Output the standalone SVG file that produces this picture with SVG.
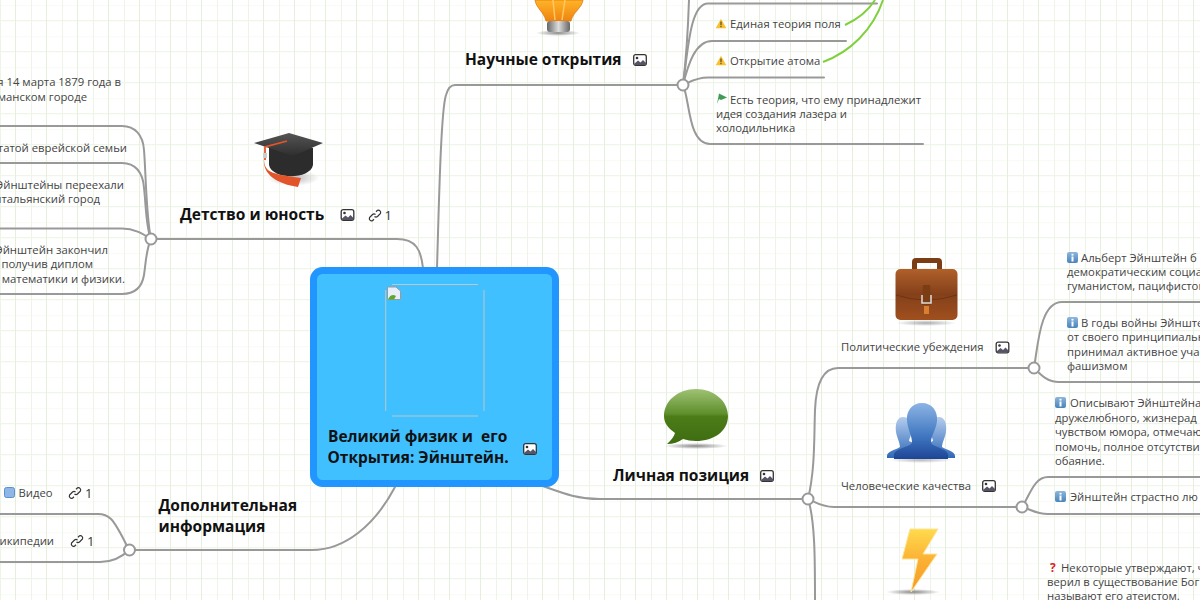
<svg xmlns="http://www.w3.org/2000/svg" xmlns:xlink="http://www.w3.org/1999/xlink" width="1200" height="600" viewBox="0 0 1200 600">
<style>
text{font-family:"Open Sans","Noto Sans","DejaVu Sans",sans-serif;}
.h{font-size:15.5px;font-weight:700;fill:#111;white-space:pre;}
.s{font-size:11.3px;fill:#444;}
.n{font-size:13px;fill:#333;}
.c{fill:none;stroke:#999;stroke-width:2;stroke-linecap:round;}
.g{fill:none;stroke:#7ed03c;stroke-width:2;}
.hub{fill:#fff;stroke:#999;stroke-width:2;}
</style>
<defs>
<pattern id="grid" x="0" y="5.2" width="31" height="31" patternUnits="userSpaceOnUse">
<rect width="31" height="31" fill="#fff"/>
<path d="M0 .5H31" stroke="#f8fbf4" stroke-width="1"/>
<path d="M0 15.5H31" stroke="#ecf3e3" stroke-width="1"/>
<path d="M.5 0V31" stroke="#eff4e8" stroke-width="1"/>
<path d="M15.5 0V31" stroke="#e6eedc" stroke-width="1"/>
</pattern>
<symbol id="img" viewBox="0 0 14 12" overflow="visible">
<rect x=".7" y=".7" width="12.6" height="10.6" rx="2" fill="#fff" stroke="#333" stroke-width="1.3"/>
<circle cx="4" cy="4" r="1.3" fill="#333"/>
<path d="M1 10 5 6.500 7.500 8.500 10 6 13 9V11H1Z" fill="#556"/>
</symbol>
<symbol id="link" viewBox="0 0 14 14" overflow="visible">
<path d="M8 3.200 9.500 1.800a2.300 2.300 0 0 1 3 3L9.500 8a2.300 2.300 0 0 1-3 0M6 10.800 4.500 12.200a2.300 2.300 0 0 1-3-3L4.500 6a2.300 2.300 0 0 1 3 0" fill="none" stroke="#333" stroke-width="1.200"/>
</symbol>
<linearGradient id="bl" x1="0" y1="0" x2="0" y2="1"><stop offset="0" stop-color="#8db6dc"/><stop offset="1" stop-color="#4a84bb"/></linearGradient>
<symbol id="info" viewBox="0 0 11 11" overflow="visible">
<rect width="11" height="11" rx="2" fill="url(#bl)"/>
<rect x="4.500" y="4.500" width="2" height="5" fill="#fff"/><rect x="4.500" y="1.800" width="2" height="1.800" fill="#fff"/>
</symbol>
<symbol id="warn" viewBox="0 0 11 10" overflow="visible">
<path d="M5.500 .3 10.800 9.700H.2Z" fill="#fbc02d"/><rect x="5" y="3" width="1" height="3.800" fill="#333"/><rect x="5" y="7.500" width="1" height="1.200" fill="#333"/>
</symbol>
<radialGradient id="sh"><stop offset="0" stop-color="#888"/><stop offset="1" stop-color="#888" stop-opacity="0"/></radialGradient>
<linearGradient id="bulb" x1="0" y1="0" x2="0" y2="1"><stop offset="0" stop-color="#ffb428"/><stop offset="1" stop-color="#ee8410"/></linearGradient>
<linearGradient id="metal" x1="0" y1="0" x2="1" y2="0"><stop offset="0" stop-color="#666"/><stop offset=".5" stop-color="#ddd"/><stop offset="1" stop-color="#666"/></linearGradient>
<linearGradient id="case" x1="0" y1="0" x2="0" y2="1"><stop offset="0" stop-color="#b0602a"/><stop offset=".5" stop-color="#84401a"/><stop offset="1" stop-color="#a0501e"/></linearGradient>
<linearGradient id="green" x1="0" y1="0" x2="0" y2="1"><stop offset="0" stop-color="#9fc274"/><stop offset=".45" stop-color="#5f8f2c"/><stop offset=".5" stop-color="#4c7c18"/><stop offset="1" stop-color="#3e6c12"/></linearGradient>
<linearGradient id="man" x1="0" y1="0" x2="0" y2="1"><stop offset="0" stop-color="#8cb4e4"/><stop offset=".6" stop-color="#3f76c0"/><stop offset="1" stop-color="#1e4596"/></linearGradient>
<linearGradient id="man2" x1="0" y1="0" x2="0" y2="1"><stop offset="0" stop-color="#b4cdee"/><stop offset="1" stop-color="#2f68b8"/></linearGradient>
<linearGradient id="bolt" x1="0" y1="0" x2="0" y2="1"><stop offset="0" stop-color="#ffdb4d"/><stop offset=".5" stop-color="#fbb034"/><stop offset="1" stop-color="#f59a24"/></linearGradient>
<linearGradient id="cap" x1="0" y1="0" x2="0" y2="1"><stop offset="0" stop-color="#555"/><stop offset="1" stop-color="#2e2e2e"/></linearGradient>
</defs>
<rect width="1200" height="600" fill="url(#grid)"/>

<g id="connectors">
<path class="c" d="M423 268C421 250 416 239 397 239H151"/>
<path class="c" d="M437 268C439 200 441 110 446 95 448 88 451 85 455 85H683"/>
<path class="c" d="M537 484C560 492 575 499 600 499H808"/>
<path class="c" d="M395 487C375 525 345 550 312 550H129"/>
<path class="c" d="M151 239C146 215 146 175 144 150 143 135 135 126 122 126H0"/>
<path class="c" d="M151 239C146 228 146 205 144 188 143 172 135 163 122 163H0"/>
<path class="c" d="M151 239C143 234 135 228.500 122 228.500H0"/>
<path class="c" d="M151 239C146 250 146 262 144 275 142 287 135 294 122 294H0"/>
<path class="c" d="M129 550C124 540 117 525 111 519 107 515 103 514 98 514H0"/>
<path class="c" d="M129 550C124 555 115 562 100 562H0"/>
<path class="c" d="M683 85C686 60 688 30 689 0"/>
<path class="c" d="M683 85C688 50 690 3.500 708 3.500H877"/>
<path class="c" d="M683 85C688 65 695 41 712 41H846"/>
<path class="c" d="M683 85C690 82 696 77.500 708 77.500H824"/>
<path class="c" d="M683 85C690 100 688 144 710 144H923"/>
<path class="g" d="M845 25C858 19 868 11 875 0"/>
<path class="g" d="M823 62C850 52 873 30 883 0"/>
<path class="c" d="M808 499C815 470 814 440 815 410 816 385 822 368 838 368H1034"/>
<path class="c" d="M808 499C815 502 822 507 834 507H1022"/>
<path class="c" d="M808 499C815 520 815 560 815 600"/>
<path class="c" d="M1034 368C1038 345 1040 302 1062 302H1200"/>
<path class="c" d="M1034 368C1040 374 1047 382 1059 382H1200"/>
<path class="c" d="M1022 507C1030 495 1034 477 1048 477H1200"/>
<path class="c" d="M1022 507C1030 509 1036 514 1048 514H1200"/>
<circle class="hub" cx="151" cy="239" r="5.500"/>
<circle class="hub" cx="683" cy="85" r="5.500"/>
<circle class="hub" cx="808" cy="499" r="5.500"/>
<circle class="hub" cx="129.500" cy="550" r="5.500"/>
<circle class="hub" cx="1034" cy="368" r="5.500"/>
<circle class="hub" cx="1022" cy="507" r="5.500"/>
</g>

<g id="center">
<rect x="313.500" y="270.500" width="242" height="213" rx="9" fill="#40c0ff" stroke="#2196ff" stroke-width="7"/>
<path d="M392 284.500H478M392 416H478M385.700 290V411M484 290V411" fill="none" stroke="#b8c8cc" stroke-width="1"/>
<g id="broken-image">
<path d="M387.500 287H396L400.500 291V299.500H387.500Z" fill="#e8eef8" stroke="#9a9a9a"/>
<path d="M388 299.500C390 295 393 294 396 296L394 299.500Z" fill="#5fa82e"/>
</g>
<text class="h" x="328" y="442" xml:space="preserve">Великий физик и  его</text>
<text class="h" x="327.500" y="463">Открытия: Эйнштейн.</text>
<use href="#img" x="523" y="443" width="14" height="12"/>
</g>

<g id="node-science">
<ellipse cx="558" cy="33" rx="22" ry="3" fill="url(#sh)"/>
<path d="M535 0H583C582 8 573 12 571 21H546C544 12 536 8 535 0Z" fill="url(#bulb)" stroke="#e07a10" stroke-width=".8"/>
<path d="M553 0 555 20M565 0 562 20" stroke="#ffc860" stroke-width="1.500" fill="none"/>
<rect x="547" y="21" width="23" height="11" rx="3" fill="url(#metal)"/>
<text class="h" x="465" y="65">Научные открытия</text>
<use href="#img" x="633" y="54" width="14" height="12"/>
</g>
<g id="node-science-1">
<use href="#warn" x="715.500" y="18.500" width="11" height="10"/>
<text class="s" x="730" y="28">Единая теория поля</text>
</g>
<g id="node-science-2">
<use href="#warn" x="715.500" y="55.500" width="11" height="10"/>
<text class="s" x="730" y="65">Открытие атома</text>
</g>
<g id="node-science-3">
<path d="M717 104 719 93.500 727 97.500 721 100 719 99Z" fill="#3f9b54"/>
<text class="s" x="730" y="104">Есть теория, что ему принадлежит</text>
<text class="s" x="716" y="118">идея создания лазера и</text>
<text class="s" x="716" y="132">холодильника</text>
</g>

<g id="node-childhood">
<ellipse cx="293" cy="178" rx="26" ry="8" fill="url(#sh)" opacity=".6"/>
<path d="M269 148V165C272 180 310 180 313 165V148Z" fill="#2c2c2c"/>
<path d="M289 133 323 143 293 156 254 143Z" fill="url(#cap)"/>
<path d="M287 141 265 147V160" fill="none" stroke="#e2552a" stroke-width="1.800"/>
<rect x="263" y="153" width="4" height="5" fill="#ccc"/>
<path d="M264 158C264 172 270 174 301 178L298 187C278 184 262 175 264 158Z" fill="#e2552a"/>
<text class="h" x="180" y="220">Детство и юность</text>
<use href="#img" x="340.500" y="209" width="14" height="12"/>
<use href="#link" x="368" y="208.500" width="14" height="14"/>
<text class="n" x="384.500" y="220">1</text>
</g>
<g id="node-childhood-1">
<text class="s" text-anchor="end" x="121" y="86">я 14 марта 1879 года в</text>
<text class="s" text-anchor="end" x="87" y="100.500">манском городе</text>
</g>
<g id="node-childhood-2"><text class="s" text-anchor="end" x="127" y="151.500">татой еврейской семьи</text></g>
<g id="node-childhood-3">
<text class="s" text-anchor="end" x="124" y="189">Эйнштейны переехали</text>
<text class="s" text-anchor="end" x="100" y="203">итальянский город</text>
</g>
<g id="node-childhood-4">
<text class="s" text-anchor="end" x="108" y="254">Эйнштейн закончил</text>
<text class="s" text-anchor="end" x="93" y="268">получив диплом</text>
<text class="s" text-anchor="end" x="125" y="283">математики и физики.</text>
</g>

<g id="node-personal">
<ellipse cx="696" cy="446" rx="32" ry="3" fill="url(#sh)"/>
<path d="M696 389C714 389 728 401 728 416 728 431 714 441 696 441 691 441 687 440 683 439 679 442 673 444 667 444 671 440 674 437 675 433 668 428 664 423 664 416 664 401 678 389 696 389Z" fill="url(#green)"/>
<text class="h" x="613" y="481">Личная позиция</text>
<use href="#img" x="760" y="470" width="14" height="12"/>
</g>
<g id="node-politics">
<ellipse cx="926" cy="323" rx="30" ry="3" fill="url(#sh)" opacity=".7"/>
<path d="M912 270V262Q912 258 916 258H938Q942 258 942 262V270H937V263H917V270Z" fill="#7a3d14"/>
<rect x="895.500" y="269" width="62" height="51" rx="5" fill="url(#case)"/>
<path d="M896 295Q926 305 957 295" fill="none" stroke="#6d3410" stroke-width="1"/>
<path d="M923 285H930L931 305H922Z" fill="#7a3d14"/>
<path d="M922 295V303H931V295" fill="none" stroke="#ddd" stroke-width="1.500"/>
<rect x="924" y="306" width="5" height="8" fill="#d98030"/>
<text class="s" x="841" y="351">Политические убеждения</text>
<use href="#img" x="995.500" y="341.500" width="14" height="12"/>
</g>
<g id="node-politics-1">
<use href="#info" x="1067" y="252" width="11" height="11"/>
<text class="s" x="1081" y="262">Альберт Эйнштейн б</text>
<text class="s" x="1067" y="276">демократическим социа</text>
<text class="s" x="1067" y="290">гуманистом, пацифистом</text>
</g>
<g id="node-politics-2">
<use href="#info" x="1067" y="317" width="11" height="11"/>
<text class="s" x="1081" y="327">В годы войны Эйнште</text>
<text class="s" x="1067" y="341">от своего принципиальн</text>
<text class="s" x="1067" y="355.500">принимал активное учас</text>
<text class="s" x="1067" y="370">фашизмом</text>
</g>
<g id="node-qualities">
<ellipse cx="921" cy="460" rx="32" ry="3" fill="url(#sh)" opacity=".6"/>
<path d="M903 417C910 417 913 424 912 431 911 436 909 439 909 441L925 448V458H887V456C887 451 896 450 900 447 900 443 897 438 896 432 895 424 897 417 903 417ZM939 417C945 417 947 424 946 432 945 438 942 443 942 447 946 450 955 451 955 456V458H917V448L933 441C933 439 931 436 930 431 929 424 932 417 939 417Z" fill="url(#man2)"/>
<path d="M922 403C932 403 938 411 937 421 936 430 931 436 931 442 931 447 948 448 948 455V459H894V455C894 448 912 447 912 442 912 436 908 430 907 421 906 411 912 403 922 403Z" fill="url(#man)"/>
<text class="s" x="841" y="490">Человеческие качества</text>
<use href="#img" x="982" y="480" width="14" height="12"/>
</g>
<g id="node-qualities-1">
<use href="#info" x="1055" y="397" width="11" height="11"/>
<text class="s" x="1070" y="407">Описывают Эйнштейна</text>
<text class="s" x="1055" y="422">дружелюбного, жизнерад</text>
<text class="s" x="1055" y="436">чувством юмора, отмечаю</text>
<text class="s" x="1055" y="451">помочь, полное отсутстви</text>
<text class="s" x="1055" y="465">обаяние.</text>
</g>
<g id="node-qualities-2">
<use href="#info" x="1055" y="491" width="11" height="11"/>
<text class="s" x="1070" y="501">Эйнштейн страстно лю</text>
</g>
<g id="node-faith">
<ellipse cx="913" cy="592" rx="27" ry="3" fill="url(#sh)"/>
<path d="M910 529H938L923 554H937L911 592 918 559H902Z" fill="url(#bolt)" stroke="#fde49a" stroke-width="1"/>
</g>
<g id="node-faith-1">
<text x="1050" y="572" font-size="12" font-weight="700" fill="#e02020">?</text>
<text class="s" x="1061" y="572">Некоторые утверждают, ч</text>
<text class="s" x="1047" y="586">верил в существование Бог</text>
<text class="s" x="1047" y="600">называют его атеистом.</text>
</g>

<g id="node-more">
<text class="h" x="158.500" y="511">Дополнительная</text>
<text class="h" x="158.500" y="532">информация</text>
</g>
<g id="node-more-1">
<rect x="4.500" y="487.500" width="10" height="10" rx="2" fill="#8fb6e6" stroke="#5a8fd0"/>
<text class="s" x="18.500" y="497">Видео</text>
<use href="#link" x="68" y="486" width="14" height="14"/>
<text class="n" x="85" y="498">1</text>
</g>
<g id="node-more-2">
<text class="s" text-anchor="end" x="54" y="545">Википедии</text>
<use href="#link" x="70" y="534" width="14" height="14"/>
<text class="n" x="87" y="546">1</text>
</g>
</svg>
